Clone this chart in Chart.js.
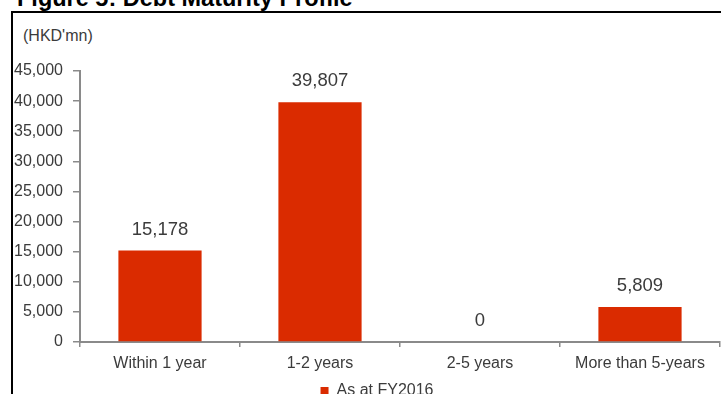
<!DOCTYPE html>
<html>
<head>
<meta charset="utf-8">
<script src="https://cdn.jsdelivr.net/npm/chart.js@4"></script>
<style>
  html, body { margin: 0; padding: 0; width: 721px; height: 394px; overflow: hidden; background: #fff; }
  body { position: relative; font-family: "Liberation Sans", Arial, sans-serif; }
  #fig-title { position: absolute; left: 17px; top: -13.5px; font-weight: bold; font-size: 23.5px; line-height: 23px; color: #000; white-space: nowrap; }
  #frame { position: absolute; left: 11px; top: 11px; width: 900px; height: 600px; border-left: 2px solid #000; border-top: 2px solid #000; }
  #unit { position: absolute; left: 23px; top: 28px; font-size: 16px; line-height: 16px; color: #3b3b3b; white-space: nowrap; }
  #c { position: absolute; left: 0; top: 0; }
</style>
</head>
<body>
<div id="fig-title">Figure 5: Debt Maturity Profile</div>
<div id="frame"></div>
<div id="unit">(HKD'mn)</div>
<canvas id="c" width="721" height="420"></canvas>
<script>
// ---- data ----
const categories = ['Within 1 year', '1-2 years', '2-5 years', 'More than 5-years'];
const seriesName = 'As at FY2016';
const debtValues = [15178, 39807, 0, 5809];
const yMin = 0;
const yMax = 45000;
const yStep = 5000;

// ---- styles ----
const RED = '#DA2B00';
const AXIS = '#8a8a8a';
const TEXT = '#3b3b3b';
const FONT = '"Liberation Sans", Arial, sans-serif';

const valueLabels = {
  id: 'valueLabels',
  afterDatasetsDraw(chart) {
    const ctx = chart.ctx;
    const meta = chart.getDatasetMeta(0);
    ctx.save();
    ctx.font = '18.5px ' + FONT;
    ctx.fillStyle = TEXT;
    ctx.textAlign = 'center';
    ctx.textBaseline = 'middle';
    meta.data.forEach((bar, i) => {
      const v = chart.data.datasets[0].data[i];
      ctx.fillText(v.toLocaleString('en-US'), bar.x, bar.y - 21);
    });
    ctx.restore();
  }
};

const legendShift = {
  id: 'legendShift',
  afterLayout(chart) {
    const lg = chart.legend;
    if (!lg) return;
    const dx = 377 - (lg.left + lg.right) / 2;
    lg.left += dx;
    lg.right += dx;
  }
};

new Chart(document.getElementById('c'), {
  type: 'bar',
  data: {
    labels: categories,
    datasets: [{
      label: seriesName,
      data: debtValues,
      backgroundColor: RED,
      borderWidth: 0,
      barPercentage: 1,
      categoryPercentage: 0.52
    }]
  },
  options: {
    responsive: false,
    animation: false,
    devicePixelRatio: 1,
    locale: 'en-US',
    layout: { padding: { top: 71, left: 0, right: 1, bottom: 11 } },
    plugins: {
      title: { display: false },
      tooltip: { enabled: false },
      legend: {
        position: 'bottom',
        labels: {
          boxWidth: 8,
          boxHeight: 8,
          padding: 7,
          color: TEXT,
          font: { family: FONT, size: 16 }
        }
      }
    },
    scales: {
      x: {
        grid: { display: true, drawOnChartArea: false, drawTicks: true, tickLength: 5, color: AXIS, lineWidth: 1.5, offset: true },
        border: { display: true, color: AXIS, width: 2 },
        ticks: { color: TEXT, font: { family: FONT, size: 16 }, padding: 7, maxRotation: 0, autoSkip: false },
        afterFit(scale) { scale.height = 34; }
      },
      y: {
        min: yMin,
        max: yMax,
        grid: { display: true, drawOnChartArea: false, drawTicks: true, tickLength: 7, color: AXIS, lineWidth: 1.5 },
        border: { display: true, color: AXIS, width: 2 },
        ticks: { stepSize: yStep, color: TEXT, font: { family: FONT, size: 16 }, padding: 10 },
        afterFit(scale) { scale.width = 80; }
      }
    }
  },
  plugins: [valueLabels, legendShift]
});
</script>
</body>
</html>
